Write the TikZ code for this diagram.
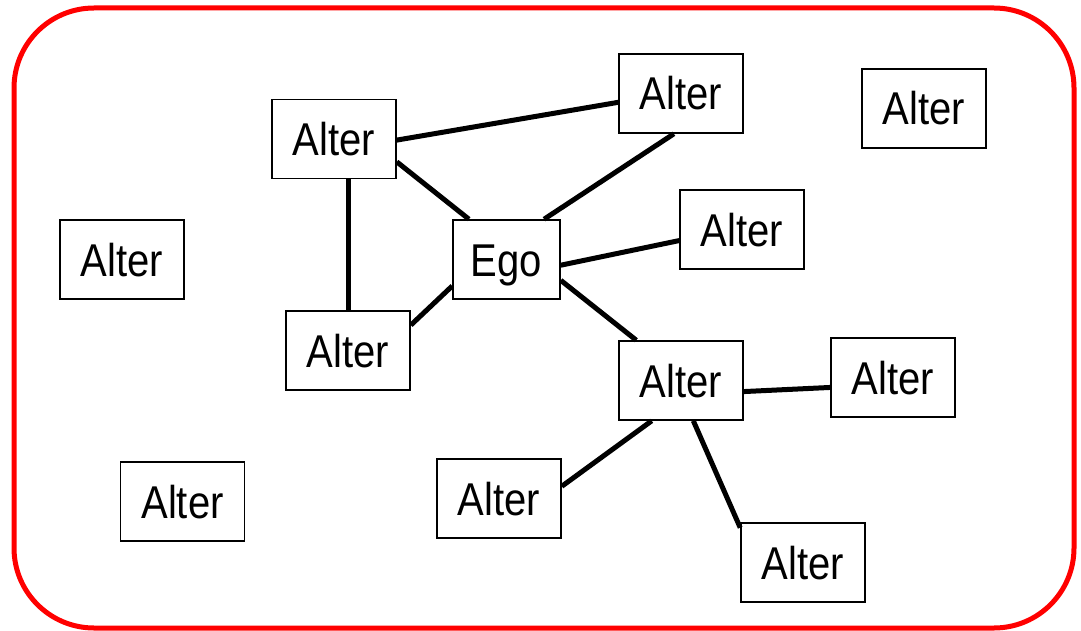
\documentclass[tikz,border=0pt]{standalone}
\usepackage{fontspec}
\setmainfont{Liberation Sans}[FakeStretch=0.87]
\usetikzlibrary{positioning}

\begin{document}
\begin{tikzpicture}[x=1pt,y=-1pt, alter/.style={draw,line width=1.6pt,minimum width=124pt,minimum height=79pt,inner sep=0pt,text height=33pt,text depth=0pt,font=\fontsize{46}{50}\selectfont}, edge/.style={line width=5pt}]
\useasboundingbox (0,0) rectangle (1081,631);
\draw[red, line width=5pt, rounded corners=80pt] (14,8) rectangle (1074,628);

\node(a1)[alter] at (334,139) {Alter};
\node(a2)[alter] at (681,93.5) {Alter};
\node(a3)[alter] at (924,108.5) {Alter};
\node(a4)[alter] at (122,259.5) {Alter};
\node(ego)[alter,minimum width=107pt] at (506.5,259.5) {Ego};
\node(a5)[alter] at (742,229.5) {Alter};
\node(a6)[alter] at (348,350.5) {Alter};
\node(a7)[alter] at (681,380.5) {Alter};
\node(a8)[alter] at (893,377.5) {Alter};
\node(a9)[alter] at (182.5,501.5) {Alter};
\node(a10)[alter] at (499,498.5) {Alter};
\node(a11)[alter] at (803,562.5) {Alter};

\draw [edge] (a1.-1) to (a2.188);
\draw [edge] (a1.-20) to (ego.133);
\draw [edge] (a6.north |- a1.south) to (a6.north);
\draw [edge] (a2.260) to (ego.47);
\draw [edge] (ego.-6) to (a5.190);
\draw [edge] (ego.206) to (a6.22);
\draw [edge] (ego.-21) to (a7.138);
\draw [edge] (a7.-10) to (a8.189);
\draw [edge] (a7.234) to (a10.11);
\draw [edge] (a7.287) to (a11.151);
\end{tikzpicture}
\end{document}
